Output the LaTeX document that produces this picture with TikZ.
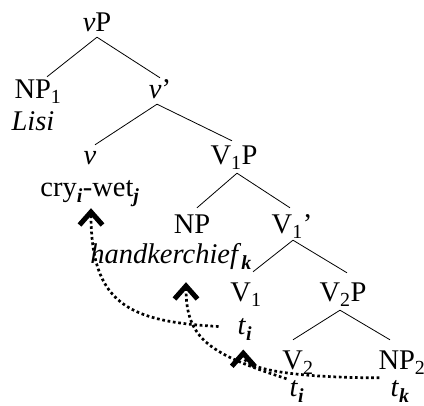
\documentclass[tikz,border=0pt]{standalone}
\usepackage{fontspec}
\setmainfont{Liberation Serif}
\usetikzlibrary{arrows.meta}
\newcommand\idx[1]{\textsubscript{\textbf{\textit{#1}}}}

\begin{document}
\begin{tikzpicture}[line join=round, x=1pt, y=-1pt, font=\fontsize{28.5}{32}\selectfont]
    \tikzset{
        cat/.style={inner sep=0pt, text height=18pt, text depth=5pt, anchor=base},
        branch/.style={line width=0.8pt},
        move/.style={line width=2.7pt, dash pattern=on 2.7pt off 2.7pt,
            -{Straight Barb[length=13pt, width=23pt, line width=5pt, sharp]}}
    }
    \useasboundingbox (0,0) rectangle (424,406);
    % categories
    \node[cat] (vP) at (97,32) {\textit{v}P};
    \node[cat] (NP1) at (38,99) {NP\textsubscript{1}};
    \node[cat] (Lisi) at (33,131) {\textit{Lisi}};
    \node[cat] (vbar) at (160,99) {\textit{v}’};
    \node[cat] (v) at (90,165) {\textit{v}};
    \node[cat] (cry) at (90,197) {cry\idx{i}-wet\idx{j}};
    \node[cat] (V1P) at (234,165) {V\textsubscript{1}P};
    \node[cat] (NP) at (192,234) {NP};
    \node[cat] (hk) at (171,264) {\textit{handkerchief}\idx{k}};
    \node[cat] (V1bar) at (292,234) {V\textsubscript{1}’};
    \node[cat] (V1) at (246,302) {V\textsubscript{1}};
    \node[cat] (ti1) at (245,335) {\textit{t}\idx{i}};
    \node[cat] (V2P) at (343,302) {V\textsubscript{2}P};
    \node[cat] (V2) at (298,370) {V\textsubscript{2}};
    \node[cat] (NP2) at (402,370) {NP\textsubscript{2}};
    \node[cat] (ti2) at (297,397) {\textit{t}\idx{i}};
    \node[cat] (tk) at (400,397) {\textit{t}\idx{k}};
    % branches
    \draw[branch] (vP.south) -- ([shift={(9,-4)}]NP1.north);
    \draw[branch] (vP.south) -- ([shift={(0,-3)}]vbar.north);
    \draw[branch] ([xshift=-3pt]vbar.south) -- ([shift={(5,-2)}]v.north);
    \draw[branch] ([xshift=-3pt]vbar.south) -- ([shift={(-2,-6)}]V1P.north);
    \draw[branch] ([shift={(3,3)}]V1P.south) -- ([shift={(5,-8)}]NP.north);
    \draw[branch] ([shift={(3,3)}]V1P.south) -- ([shift={(-2,-8)}]V1bar.north);
    \draw[branch] ([shift={(1,1)}]V1bar.south) -- ([shift={(7,-12)}]V1.north);
    \draw[branch] ([shift={(1,1)}]V1bar.south) -- ([shift={(4,-11)}]V2P.north);
    \draw[branch] ([shift={(-3,3)}]V2P.south) -- ([shift={(-5,-12)}]V2.north);
    \draw[branch] ([shift={(-3,3)}]V2P.south) -- ([shift={(-12,-12)}]NP2.north);
    % movement
    \draw[move] ([shift={(-19,-2)}]ti1.west) .. controls +(-90,-5) and +(0,96) .. ([shift={(1,6)}]cry.south);
    \draw[move] ([shift={(-3,0)}]ti2.north west) .. controls +(-77,-25) and +(0,57) .. ([shift={(15,13)}]hk.south);
    \draw[move] ([shift={(-11,-1)}]tk.north west) .. controls +(-70,0) and +(0,22) .. ([shift={(-39,-14)}]V2.west);
\end{tikzpicture}
\end{document}
